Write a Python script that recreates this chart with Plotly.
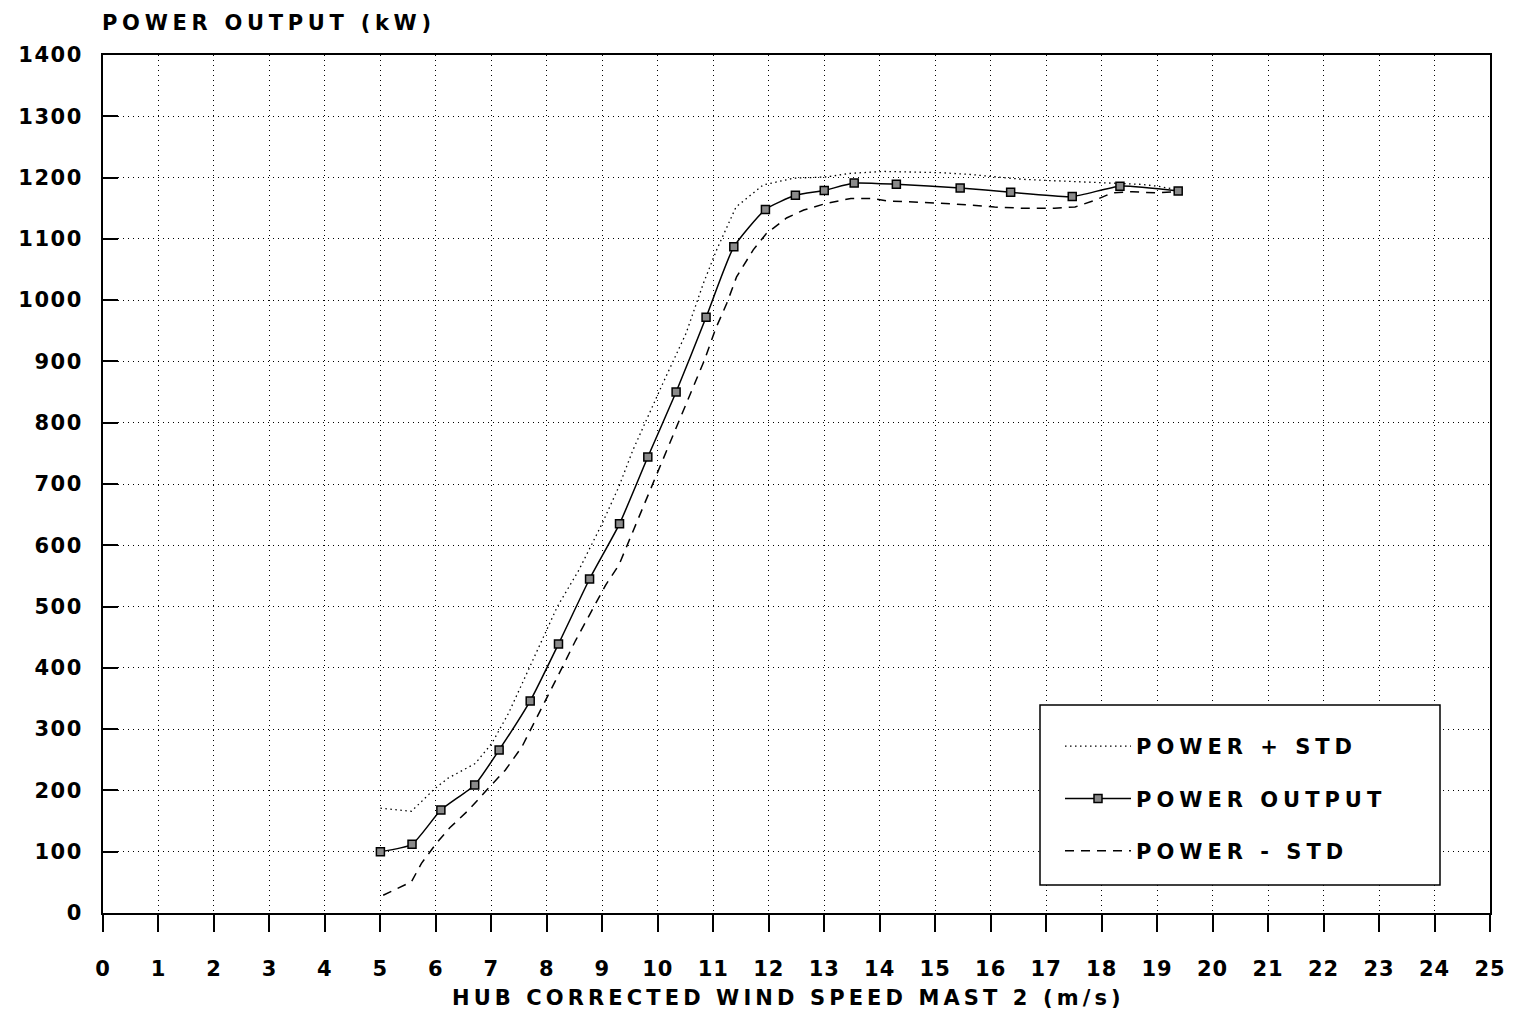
import plotly.graph_objects as go

# ---- data ----
wind_speed = [5.0, 5.57, 6.09, 6.70, 7.14, 7.70, 8.21, 8.77, 9.31, 9.82, 10.33, 10.87,
              11.37, 11.94, 12.48, 13.0, 13.54, 14.30, 15.45, 16.36, 17.47, 18.33, 19.38]
power_output = [100, 112, 168, 209, 266, 346, 439, 545, 635, 744, 850, 972,
                1087, 1148, 1171, 1179, 1191, 1189, 1183, 1176, 1169, 1186, 1178]

ws_plus = [5.0, 5.56, 5.98, 6.22, 6.71, 7.01, 7.31, 7.67, 7.92, 8.19, 8.58, 9.0, 9.30, 9.55,
           10.09, 10.51, 10.82, 11.06, 11.41, 11.9, 12.45, 13.04, 13.48, 14.08, 15.1, 15.65,
           16.1, 16.6, 17.1, 17.6, 18.0, 18.33, 18.7, 19.0, 19.38]
power_plus = [171, 166, 203, 220, 244, 277, 326, 396, 445, 500, 560, 636, 696, 755,
              864, 946, 1027, 1082, 1152, 1188, 1199, 1201, 1207, 1210, 1208, 1205,
              1201, 1197, 1195, 1193, 1191, 1190, 1189, 1186, 1180]

ws_minus = [5.05, 5.56, 5.74, 6.01, 6.25, 6.59, 6.95, 7.25, 7.55, 7.92, 8.19, 8.52, 8.85, 9.06,
            9.30, 9.6, 9.91, 10.09, 10.36, 10.57, 10.84, 11.05, 11.24, 11.42, 11.72, 11.96,
            12.32, 12.63, 13.04, 13.48, 13.84, 14.13, 14.62, 15.34, 16.07, 16.55, 17.15,
            17.52, 17.88, 18.19, 18.55, 18.97, 19.33]
power_minus = [29, 51, 81, 114, 139, 168, 204, 233, 271, 336, 385, 445, 500, 535,
               568, 633, 701, 739, 799, 842, 902, 955, 994, 1038, 1082, 1109,
               1134, 1147, 1158, 1166, 1166, 1162, 1160, 1157, 1152, 1150, 1150,
               1152, 1163, 1175, 1177, 1175, 1177]

x_ticks = list(range(0, 26))
x_tick_labels = [str(v) for v in x_ticks]
y_ticks = list(range(0, 1401, 100))
y_tick_labels = [str(v) for v in y_ticks]

series_names = ["POWER + STD", "POWER OUTPUT", "POWER - STD"]
y_title = "POWER OUTPUT (kW)"
x_title = "HUB CORRECTED WIND SPEED MAST 2 (m/s)"

FONT = "DejaVu Sans"


def sp(text, ls):
    return '<span style="letter-spacing:%.1fpx">%s</span>' % (ls, text)


fig = go.Figure()
fig.add_trace(go.Scatter(
    x=ws_plus, y=power_plus, mode="lines", name=sp(series_names[0], 5),
    legendgroup="a",
    line=dict(color="black", width=1.3, dash="1.5px,3.5px")))
fig.add_trace(go.Scatter(
    x=wind_speed, y=power_output, mode="lines+markers", name=sp(series_names[1], 5),
    legendgroup="b",
    line=dict(color="black", width=1.5, shape="spline", smoothing=0.5),
    marker=dict(symbol="square", size=8, color="#8a8a8a",
                line=dict(color="black", width=1.5))))
fig.add_trace(go.Scatter(
    x=ws_minus, y=power_minus, mode="lines", name=sp(series_names[2], 5),
    legendgroup="c",
    line=dict(color="black", width=1.5, dash="9px,7px")))

L, R, T, B = 103, 27, 55, 101
W, H = 1517, 1014
PW, PH = W - L - R, 913 - T

fig.update_layout(
    width=W, height=H, autosize=False,
    margin=dict(l=L, r=R, t=T, b=B, pad=0),
    paper_bgcolor="white", plot_bgcolor="white",
    font=dict(family=FONT, size=21, color="black", weight="bold"),
    showlegend=True,
    legend=dict(
        x=(1060 - L) / PW, y=(913 - 726) / PH,
        xanchor="left", yanchor="top",
        bgcolor="rgba(0,0,0,0)", borderwidth=0,
        itemwidth=66, tracegroupgap=22,
        font=dict(family=FONT, size=21, color="black", weight="bold"),
    ),
    shapes=[dict(
        type="rect", xref="paper", yref="paper", layer="above",
        x0=(1040 - L) / PW, x1=(1440 - L) / PW,
        y0=(913 - 885) / PH, y1=(913 - 705) / PH,
        line=dict(color="black", width=1.5), fillcolor="white")],
    annotations=[
        dict(text=sp(y_title, 4.7), xref="paper", yref="paper",
             x=-3 / PW, y=1 + 32 / PH, xanchor="left", yanchor="middle",
             showarrow=False, font=dict(family=FONT, size=21, weight="bold")),
        dict(text=sp(x_title, 4.1), xref="paper", yref="paper",
             x=(788 - L) / PW, y=-(998 - 913) / PH,
             xanchor="center", yanchor="middle",
             showarrow=False, font=dict(family=FONT, size=21, weight="bold")),
    ],
)

fig.update_xaxes(
    range=[0, 25], tickmode="array", tickvals=x_ticks,
    ticktext=[sp(t, 1) for t in x_tick_labels],
    ticks="outside", ticklen=17, tickwidth=1.5, tickcolor="black",
    ticklabelstandoff=19,
    showline=True, linecolor="black", linewidth=2, mirror=True,
    showgrid=True, gridcolor="black", gridwidth=1, griddash="1px,4px",
    zeroline=False,
    tickfont=dict(family=FONT, size=21, weight="bold"),
)
fig.update_yaxes(
    range=[0, 1400], tickmode="array", tickvals=y_ticks,
    ticktext=[sp(t, 1.5) for t in y_tick_labels],
    ticks="inside", ticklen=15, tickwidth=1.5, tickcolor="black",
    ticklabelstandoff=14,
    showline=True, linecolor="black", linewidth=2, mirror=True,
    showgrid=True, gridcolor="black", gridwidth=1, griddash="1px,4px",
    zeroline=False,
    tickfont=dict(family=FONT, size=21, weight="bold"),
)

fig.write_html("out.html")
